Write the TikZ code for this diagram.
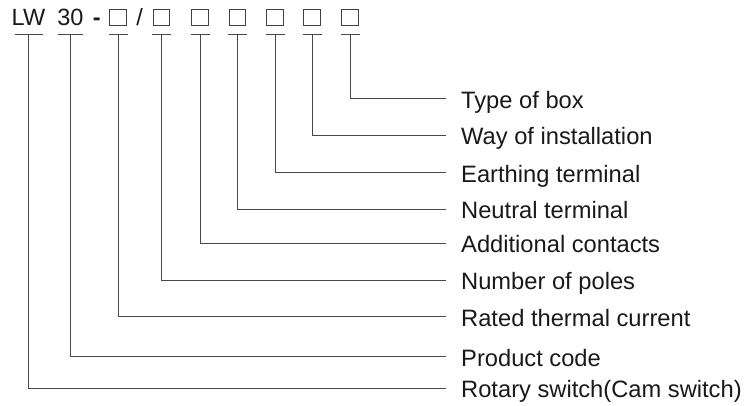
\documentclass[tikz,border=0pt]{standalone}
\usepackage{fontspec}
\setmainfont{Liberation Sans}
\begin{document}
\begin{tikzpicture}[x=1pt,y=-1pt,
  conn/.style={draw=black!72, line width=1pt},
  toptext/.style={inner sep=0pt, font=\fontsize{23.5}{23.5}\selectfont, text=black!90},
  codebox/.style={draw=black!75, line width=1pt, minimum width=16.5pt, minimum height=16pt, inner sep=0pt},
  lab/.style={inner sep=0pt, anchor=base west, font=\fontsize{23.7}{23.7}\selectfont, text=black!90}]
\useasboundingbox (0,0) rectangle (746,406);
% top code
\node[toptext, anchor=base] (lw) at (28.5,26) {LW};
\node[toptext, anchor=base] (n30) at (70.5,26) {30};
\node[toptext, anchor=base] (dash) at (96.7,26) {\textbf{-}};
\node[codebox] (b1) at (118,18) {};
\node[toptext, anchor=base] (slash) at (139.7,26) {/};
\node[codebox] (b2) at (161.5,18) {};
\node[codebox] (b3) at (200,18) {};
\node[codebox] (b4) at (237.5,18) {};
\node[codebox] (b5) at (275,18) {};
\node[codebox] (b6) at (312,18) {};
\node[codebox] (b7) at (350,18) {};
% bars
\foreach \n/\w in {lw/14, n30/12.5, b1/9.5, b2/9.5, b3/9.5, b4/9.5, b5/9.5, b6/9.5, b7/9.5}{
  \coordinate (\n bar) at (\n |- 0,35);
  \draw[conn] ([xshift=-\w pt]\n bar) -- ([xshift=\w pt]\n bar);
}
% labels and line ends
\foreach \k/\y/\t in {
  l7/99/{Type of box},
  l6/135.3/{Way of installation},
  l5/172.7/{Earthing terminal},
  l4/209/{Neutral terminal},
  l3/243.3/{Additional contacts},
  l2/280/{Number of poles},
  l1/316.7/{Rated thermal current},
  l0/356.7/{Product code},
  lr/388.3/{Rotary switch(Cam switch)}}{
  \coordinate (\k end) at (445.5,\y);
  \node[lab] (\k) at (461,\y+9.5) {\t};
}
% connectors
\foreach \n/\k in {b7/l7, b6/l6, b5/l5, b4/l4, b3/l3, b2/l2, b1/l1, n30/l0, lw/lr}{
  \draw[conn] (\n bar) |- (\k end);
}
\end{tikzpicture}
\end{document}
